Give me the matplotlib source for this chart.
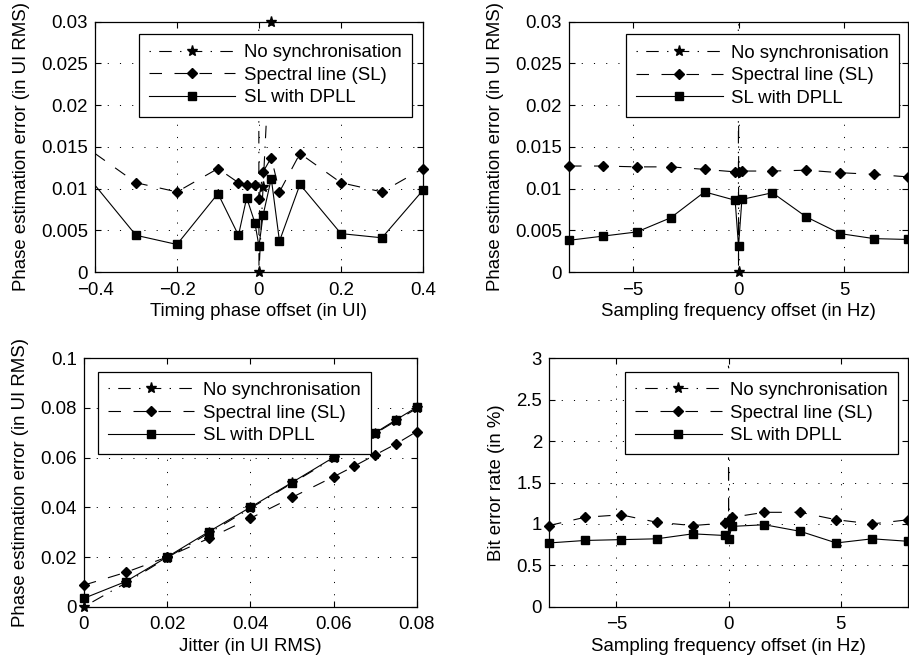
import numpy as np
import matplotlib
matplotlib.use('Agg')
import matplotlib.pyplot as plt
from matplotlib.lines import Line2D
from matplotlib.ticker import FuncFormatter

plt.rcParams['font.family'] = ['Liberation Sans', 'DejaVu Sans']
plt.rcParams['font.size'] = 13.4
plt.rcParams['lines.scale_dashes'] = False

# --- timing phase offset (top left)
phase_x = [-0.5, -0.3, -0.2, -0.1, -0.05, -0.03, -0.01, 0, 0.01, 0.03, 0.05, 0.1, 0.2, 0.3, 0.4]
phase_sl = [0.0177, 0.0107, 0.0096, 0.0124, 0.0107, 0.0104, 0.0104, 0.0088, 0.0120, 0.0137,
            0.0096, 0.0142, 0.0107, 0.0096, 0.0124]
phase_dpll = [0.0164, 0.0044, 0.0033, 0.0094, 0.0044, 0.0089, 0.0059, 0.0031, 0.0068, 0.0112,
              0.0037, 0.0105, 0.0046, 0.0041, 0.0098]
phase_ns_x = [-0.05, -0.03, -0.01, 0, 0.01, 0.03, 0.05]
phase_ns = [0.5, 0.5, 0.5, 0, 0.0102, 0.03, 0.5]

# --- sampling frequency offset (top right)
freq_x = [-8, -6.4, -4.8, -3.2, -1.6, -0.16, 0, 0.16, 1.6, 3.2, 4.8, 6.4, 8]
freq_sl = [0.0127, 0.0127, 0.0126, 0.0126, 0.0123, 0.0120, 0.0120, 0.0121, 0.0121, 0.0122,
           0.0119, 0.0117, 0.0114]
freq_dpll = [0.0038, 0.0043, 0.0048, 0.0065, 0.0096, 0.0086, 0.0031, 0.0087, 0.0095, 0.0066,
             0.0046, 0.0040, 0.0039]
freq_ns_x = [-0.16, 0, 0.16]
freq_ns = [0.5, 0, 0.5]

# --- jitter (bottom left)
jit_x = [0, 0.01, 0.02, 0.03, 0.04, 0.05, 0.06, 0.065, 0.07, 0.075, 0.08]
jit_sl = [0.0087, 0.0138, 0.0200, 0.0275, 0.0356, 0.0440, 0.0523, 0.0566, 0.0611, 0.0655, 0.0705]
jit_dpll = [0.0034, 0.0101, 0.0200, 0.0302, 0.0400, 0.0500, 0.0601, 0.0650, 0.0700, 0.0752, 0.0803]
jit_ns = [0, 0.0095, 0.0197, 0.0296, 0.0396, 0.0497, 0.0597, 0.0647, 0.0697, 0.0748, 0.0798]

# --- bit error rate vs sampling frequency offset (bottom right)
ber_x = [-8, -6.4, -4.8, -3.2, -1.6, -0.16, 0, 0.16, 1.6, 3.2, 4.8, 6.4, 8]
ber_sl = [0.98, 1.08, 1.11, 1.02, 0.98, 1.01, 1.03, 1.08, 1.14, 1.14, 1.05, 1.00, 1.05]
ber_dpll = [0.77, 0.80, 0.81, 0.82, 0.88, 0.86, 0.82, 0.97, 0.99, 0.91, 0.77, 0.82, 0.79]
ber_ns_x = [-0.16, 0, 0.16]
ber_ns = [50, 1.05, 50]

labels = ['No synchronisation', 'Spectral line (SL)', 'SL with DPLL']
DASHDOT = (15, (9, 6, 1, 6))
DASHED = (0, (9, 9))
styles = [dict(ls=DASHDOT, marker='*', ms=8),
          dict(ls=DASHED, marker='D', ms=5.2),
          dict(ls='-', marker='s', ms=6)]
LW = 0.8


def fmt(v, pos):
    s = '%g' % round(v, 6)
    return s.replace('-', '\u2212')


def series(ax, x, y, st, xlim, ylim):
    x = np.asarray(x, float)
    y = np.asarray(y, float)
    ax.plot(x, y, color='k', lw=LW, ls=st['ls'])
    # markers on the frame stay whole, like the original figure
    inside = (x >= xlim[0] - 1e-9) & (x <= xlim[1] + 1e-9) & (y >= ylim[0] - 1e-9) & (y <= ylim[1] + 1e-9)
    ax.plot(x[inside], y[inside], ls='none', marker=st['marker'], ms=st['ms'],
            color='k', mfc='k', mec='k', clip_on=False, zorder=3)


def panel(rect, curves, xlim, ylim, xticks, yticks, xlabel, ylabel, leg_loc, leg_anchor):
    ax = fig.add_axes(rect)
    for (x, y), st in zip(curves, styles):
        series(ax, x, y, st, xlim, ylim)
    ax.set_xlim(xlim)
    ax.set_ylim(ylim)
    ax.set_xticks(xticks)
    ax.set_yticks(yticks)
    ax.xaxis.set_major_formatter(FuncFormatter(fmt))
    ax.yaxis.set_major_formatter(FuncFormatter(fmt))
    ax.grid(True, color='k', lw=0.7, ls=(0, (0.8, 8)))
    ax.tick_params(direction='in', top=True, right=True, length=4, width=0.8)
    ax.tick_params(axis='x', pad=7)
    ax.tick_params(axis='y', pad=5)
    for sp in ax.spines.values():
        sp.set_linewidth(0.9)
    ax.set_xlabel(xlabel, labelpad=3)
    ax.set_ylabel(ylabel, labelpad=8)
    handles = [Line2D([], [], color='k', lw=LW, ls=st['ls'], marker=st['marker'],
                      ms=st['ms'], mfc='k', mec='k') for st in styles]
    leg = ax.legend(handles, labels, loc=leg_loc, bbox_to_anchor=leg_anchor,
                    numpoints=1, handlelength=4.65, handletextpad=0.45,
                    borderpad=0.55, labelspacing=0.3, borderaxespad=0,
                    fancybox=False, framealpha=1, edgecolor='k')
    leg.get_frame().set_linewidth(0.9)
    return ax


fig = plt.figure(figsize=(9.09, 6.67), dpi=100)

panel([0.1045, 0.5922, 0.3608, 0.3753],
      [(phase_ns_x, phase_ns), (phase_x, phase_sl), (phase_x, phase_dpll)],
      (-0.4, 0.4), (0, 0.03), np.arange(-0.4, 0.41, 0.2), np.arange(0, 0.0301, 0.005),
      'Timing phase offset (in UI)', 'Phase estimation error (in UI RMS)',
      'upper right', (0.9655, 0.951))

panel([0.626, 0.5922, 0.3729, 0.3753],
      [(freq_ns_x, freq_ns), (freq_x, freq_sl), (freq_x, freq_dpll)],
      (-8, 8), (0, 0.03), [-5, 0, 5], np.arange(0, 0.0301, 0.005),
      'Sampling frequency offset (in Hz)', 'Phase estimation error (in UI RMS)',
      'upper right', (0.9735, 0.9496))

panel([0.0924, 0.0904, 0.366, 0.3724],
      [(jit_x, jit_ns), (jit_x, jit_sl), (jit_x, jit_dpll)],
      (0, 0.08), (0, 0.1), np.arange(0, 0.0801, 0.02), np.arange(0, 0.1001, 0.02),
      'Jitter (in UI RMS)', 'Phase estimation error (in UI RMS)',
      'upper left', (0.041, 0.946))

panel([0.604, 0.0904, 0.395, 0.3724],
      [(ber_ns_x, ber_ns), (ber_x, ber_sl), (ber_x, ber_dpll)],
      (-8, 8), (0, 3), [-5, 0, 5], np.arange(0, 3.01, 0.5),
      'Sampling frequency offset (in Hz)', 'Bit error rate (in %)',
      'upper right', (0.972, 0.946))

fig.savefig('out.png', dpi=100)
